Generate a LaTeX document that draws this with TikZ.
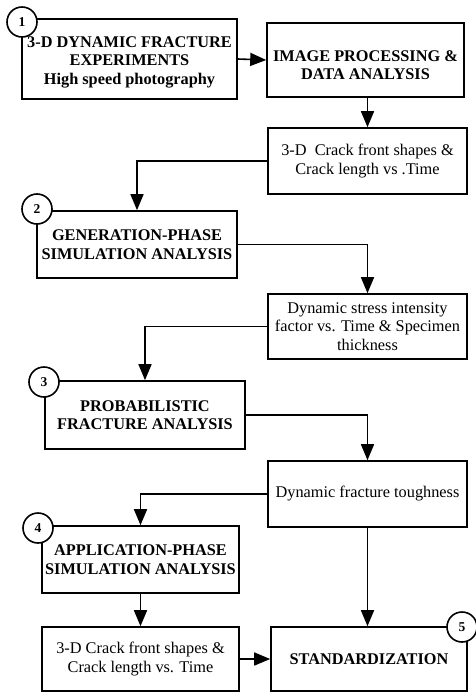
\documentclass[tikz,border=0pt]{standalone}
\usepackage{fontspec}
\setmainfont{Liberation Serif}
\usetikzlibrary{arrows.meta}
\begin{document}
\begin{tikzpicture}[x=1pt,y=-1pt,
  box/.style={draw, line width=1.6pt, align=center, inner sep=2pt, font=\fontsize{16.3}{18.5}\selectfont},
  bbox/.style={box, font=\fontsize{16.3}{18.5}\selectfont\bfseries},
  num/.style={circle, draw, fill=white, line width=1.6pt, minimum size=30pt, inner sep=0pt, font=\fontsize{13.5}{13.5}\selectfont\bfseries},
  conn/.style={line width=1.6pt, -{Triangle[length=16pt,width=13pt]}}]
\useasboundingbox (0,0) rectangle (476,693);
\node[bbox, minimum width=215pt, minimum height=80pt] (b1) at (129.5,59) {};
\node[font=\fontsize{16.3}{18.5}\selectfont\bfseries, align=center] (t1) at (129.5,62) {3-D DYNAMIC FRACTURE\\EXPERIMENTS\\High speed photography};
\node[bbox, minimum width=197pt, minimum height=74pt] (b2) at (365.5,60) {};
\node[font=\fontsize{16.3}{18.5}\selectfont\bfseries, align=center] (t2) at (365.5,65) {IMAGE PROCESSING \&\\DATA ANALYSIS};
\node[box, minimum width=199pt, minimum height=66pt] (b3) at (367.5,161) {3-D\ \ Crack front shapes \&\\Crack length vs .Time};
\node[bbox, minimum width=200pt, minimum height=67pt] (b4) at (137,244.5) {GENERATION-PHASE\\SIMULATION ANALYSIS};
\node[box, minimum width=199pt, minimum height=65pt] (b5) at (367.5,326.5) {Dynamic stress intensity\\factor vs. Time \& Specimen\\thickness};
\node[bbox, minimum width=200pt, minimum height=68pt] (b6) at (145,415) {PROBABILISTIC\\FRACTURE ANALYSIS};
\node[box, minimum width=199pt, minimum height=66pt] (b7) at (367.5,494) {Dynamic fracture toughness};
\node[bbox, minimum width=197pt, minimum height=67pt] (b8) at (140.5,559.5) {APPLICATION-PHASE\\SIMULATION ANALYSIS};
\node[box, minimum width=197pt, minimum height=64pt] (b9) at (140.5,659) {3-D Crack front shapes \&\\Crack length vs. Time};
\node[bbox, minimum width=196pt, minimum height=64pt] (b10) at (369,659) {STANDARDIZATION};
\node[num] (c1) at (22,22) {1};
\node[num] (c2) at (37,209) {2};
\node[num] (c3) at (44,382) {3};
\node[num] (c4) at (38,528) {4};
\node[num] (c5) at (462,627) {5};
\draw[conn] (b1.east) -- (b2.west);
\draw[conn] (b3.north |- b2.south) -- (b3.north);
\draw[conn] (b3.west) -| (b4.north);
\draw[conn] (b4.east) -| (b5.north);
\draw[conn] (b5.west) -| (b6.north);
\draw[conn] (b6.east) -| (b7.north);
\draw[conn] (b7.west) -| (b8.north);
\draw[conn] (b8.south) -- (b9.north);
\draw[conn] (b7.south) -- (b7.south |- b10.north);
\draw[conn] (b9.east) -- (b10.west);
\end{tikzpicture}
\end{document}
